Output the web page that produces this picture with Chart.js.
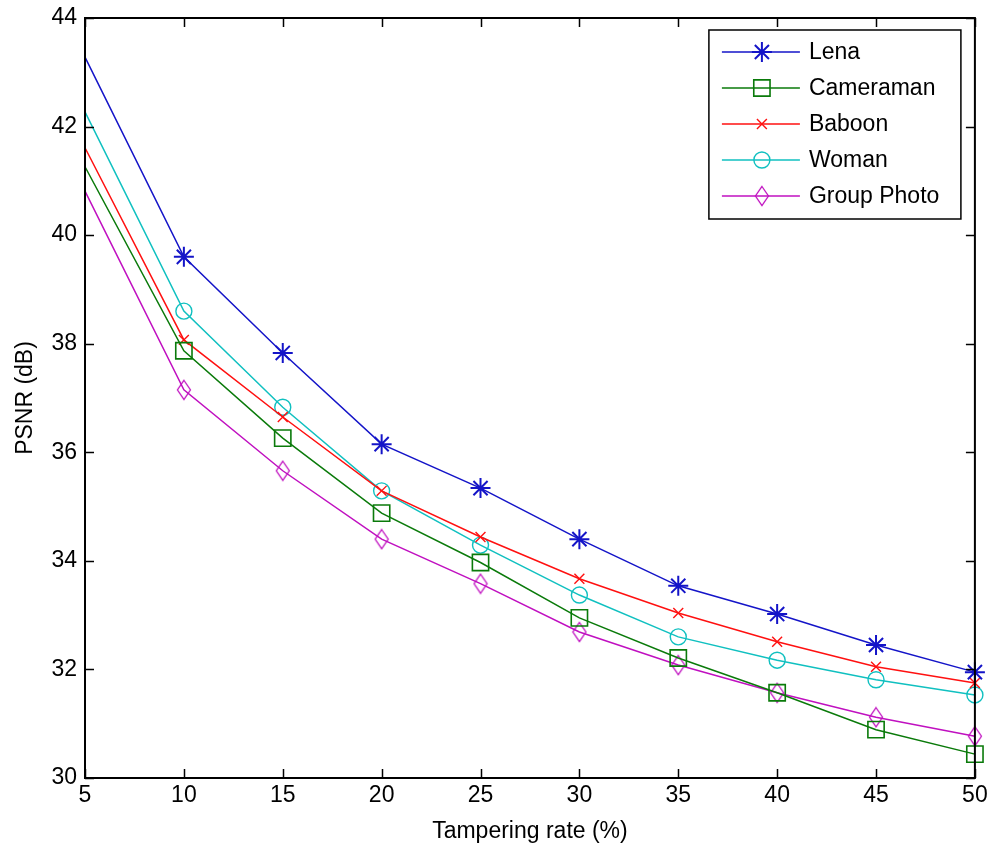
<!DOCTYPE html>
<html>
<head>
<meta charset="utf-8">
<script src="https://cdn.jsdelivr.net/npm/chart.js@4/dist/chart.umd.min.js"></script>
<style>
  html, body { margin: 0; padding: 0; background: #fff; }
  #wrap { width: 988px; height: 851px; }
</style>
</head>
<body>
<div id="wrap"><canvas id="psnr"></canvas></div>
<script>
// tampering rate (%) on the x axis
const rates = [5, 10, 15, 20, 25, 30, 35, 40, 45, 50];
// PSNR (dB) per test image
const lena = [43.28, 39.60, 37.83, 36.15, 35.34, 34.40, 33.54, 33.02, 32.45, 31.95];
const cameraman = [41.26, 37.87, 36.26, 34.88, 33.97, 32.95, 32.21, 31.57, 30.89, 30.44];
const baboon = [41.61, 38.07, 36.65, 35.29, 34.44, 33.67, 33.04, 32.51, 32.05, 31.75];
const woman = [42.27, 38.60, 36.83, 35.29, 34.29, 33.37, 32.60, 32.17, 31.81, 31.53];
const groupPhoto = [40.81, 37.15, 35.66, 34.40, 33.58, 32.69, 32.08, 31.57, 31.12, 30.77];
const seriesNames = ['Lena', 'Cameraman', 'Baboon', 'Woman', 'Group Photo'];
const yTicks = [30, 32, 34, 36, 38, 40, 42, 44];

const FONT = "'Liberation Sans', Arial, sans-serif";

// tall diamond marker like matlab's 'd'
const makeDiamond = (color) => {
    const c = document.createElement('canvas');
    c.width = 16; c.height = 22;
    const g = c.getContext('2d');
    g.strokeStyle = color;
    g.lineWidth = 1.3;
    g.beginPath();
    g.moveTo(8, 1.5); g.lineTo(14.5, 11); g.lineTo(8, 20.5); g.lineTo(1.5, 11);
    g.closePath();
    g.stroke();
    return c;
};

const styles = [
    { color: '#1414c8', pointStyle: 'star', radius: 10, pw: 2 },
    { color: '#0a7a0a', pointStyle: 'rect', radius: 11.5, pw: 1.6 },
    { color: '#ff1010', pointStyle: 'crossRot', radius: 7, pw: 1.4 },
    { color: '#10c0c0', pointStyle: 'circle', radius: 8, pw: 1.4 },
    { color: '#c010c0', pointStyle: makeDiamond('#c010c0'), radius: 10, pw: 1.3 }
];

const values = [lena, cameraman, baboon, woman, groupPhoto];

const datasets = values.map((vals, i) => ({
    label: seriesNames[i],
    data: vals.map((v, k) => ({ x: rates[k], y: v })),
    borderColor: styles[i].color,
    backgroundColor: 'rgba(0,0,0,0)',
    borderWidth: 1.5,
    tension: 0,
    clip: false,
    pointStyle: styles[i].pointStyle,
    pointRadius: (ctx) => ctx.dataIndex === 0 ? 0 : styles[i].radius,
    pointBorderWidth: styles[i].pw,
    pointBorderColor: styles[i].color,
    pointBackgroundColor: 'rgba(0,0,0,0)',
    pointHoverRadius: 0
}));

// matlab-like box with inward ticks on all four sides
const boxTicks = {
    id: 'boxTicks',
    afterDraw(chart) {
        const { ctx, chartArea: a, scales } = chart;
        const len = 9;
        ctx.save();
        ctx.strokeStyle = '#000';
        ctx.lineWidth = 1.5;
        ctx.beginPath();
        scales.x.ticks.forEach(t => {
            const px = Math.round(scales.x.getPixelForValue(t.value)) + 0.5;
            ctx.moveTo(px, a.bottom); ctx.lineTo(px, a.bottom - len);
            ctx.moveTo(px, a.top); ctx.lineTo(px, a.top + len);
        });
        scales.y.ticks.forEach(t => {
            const py = Math.round(scales.y.getPixelForValue(t.value)) + 0.5;
            ctx.moveTo(a.left, py); ctx.lineTo(a.left + len, py);
            ctx.moveTo(a.right, py); ctx.lineTo(a.right - len, py);
        });
        ctx.stroke();
        ctx.lineWidth = 2;
        ctx.strokeRect(a.left, a.top, a.right - a.left, a.bottom - a.top);
        ctx.restore();
    }
};

// legend with line + marker samples
const matlabLegend = {
    id: 'matlabLegend',
    afterDraw(chart) {
        const { ctx, chartArea: a } = chart;
        const w = 252, rowH = 36;
        const x0 = a.right - 14 - w, y0 = a.top + 12;
        const h = rowH * chart.data.datasets.length + 9;
        ctx.save();
        ctx.fillStyle = '#fff';
        ctx.fillRect(x0, y0, w, h);
        ctx.strokeStyle = '#000';
        ctx.lineWidth = 1.5;
        ctx.strokeRect(x0, y0, w, h);
        ctx.font = '23px ' + FONT;
        ctx.textBaseline = 'middle';
        chart.data.datasets.forEach((ds, i) => {
            const cy = y0 + 22 + i * rowH;
            ctx.strokeStyle = ds.borderColor;
            ctx.lineWidth = 1.5;
            ctx.beginPath();
            ctx.moveTo(x0 + 13, cy); ctx.lineTo(x0 + 91, cy);
            ctx.stroke();
            ctx.lineWidth = ds.pointBorderWidth;
            ctx.fillStyle = 'rgba(0,0,0,0)';
            Chart.helpers.drawPoint(ctx, {
                pointStyle: ds.pointStyle,
                radius: styles[i].radius,
                borderWidth: ds.pointBorderWidth,
                rotation: 0
            }, x0 + 53, cy);
            ctx.fillStyle = '#000';
            ctx.fillText(ds.label, x0 + 100, cy + 1);
        });
        ctx.restore();
    }
};

new Chart(document.getElementById('psnr'), {
    type: 'line',
    data: { datasets },
    plugins: [boxTicks, matlabLegend],
    options: {
        responsive: true,
        maintainAspectRatio: false,
        animation: false,
        layout: { padding: { top: 18, right: 10, left: 0, bottom: 0 } },
        plugins: { legend: { display: false }, tooltip: { enabled: false } },
        scales: {
            x: {
                type: 'linear',
                min: 5, max: 50,
                afterFit: s => { s.height = 73; s.paddingLeft = 0; s.paddingRight = 0; },
                grid: { display: false, drawTicks: false },
                border: { display: false },
                ticks: { stepSize: 5, padding: 4, color: '#000', font: { size: 23, family: FONT } },
                title: { display: true, text: 'Tampering rate (%)', color: '#000', padding: { top: 0, bottom: 6 }, font: { size: 23, family: FONT } }
            },
            y: {
                type: 'linear',
                min: 30, max: 44,
                afterFit: s => { s.width = 85; s.paddingTop = 0; s.paddingBottom = 0; },
                afterBuildTicks: s => { s.ticks = yTicks.map(v => ({ value: v })); },
                grid: { display: false, drawTicks: false },
                border: { display: false },
                ticks: { padding: 8, color: '#000', font: { size: 23, family: FONT } },
                title: { display: true, text: 'PSNR (dB)', color: '#000', padding: { top: 12, bottom: 0 }, font: { size: 23, family: FONT } }
            }
        }
    }
});
</script>
</body>
</html>
